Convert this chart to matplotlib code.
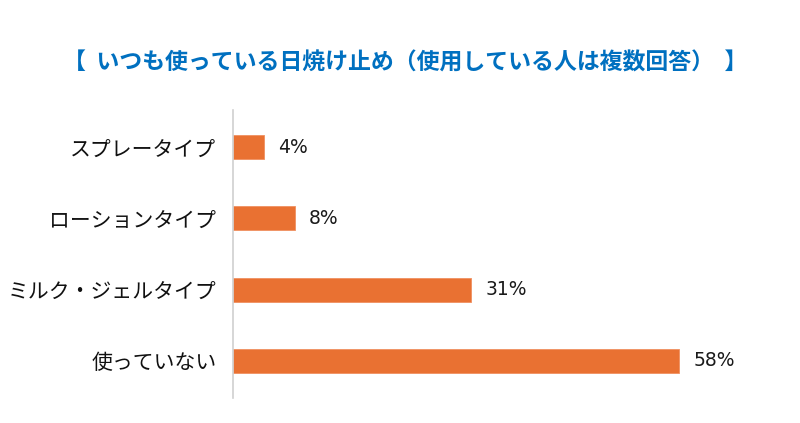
import matplotlib
matplotlib.use("Agg")
import matplotlib.pyplot as plt

categories = ["スプレータイプ", "ローションタイプ", "ミルク・ジェルタイプ", "使っていない"]
values = [4, 8, 31, 58]
value_labels = ["4%", "8%", "31%", "58%"]
title = "【  いつも使っている日焼け止め（使用している人は複数回答）  】"

plt.rcParams['font.family'] = ['Noto Sans CJK JP', 'DejaVu Sans']

fig = plt.figure(figsize=(8, 4.23), dpi=100)
ax = fig.add_axes([233/800, 25/423, (780-233)/800, 288/423])

y = list(range(len(categories)))
ax.barh(y, values, height=0.34, color="#E97132", edgecolor="#F09060", linewidth=0.6)
for yi, v, lab in zip(y, values, value_labels):
    ax.text(v + 1.8, yi, lab, va="center", ha="left", fontsize=13.5, color="#1a1a1a",
            family="DejaVu Sans")

ax.set_yticks(y)
ax.set_yticklabels(categories, fontsize=15, color="#111111")
ax.tick_params(axis="y", length=0, pad=12)
ax.set_xticks([])
ax.set_xlim(0, 71.1)
ax.set_ylim(3.52, -0.52)
for s in ["top", "right", "bottom"]:
    ax.spines[s].set_visible(False)
ax.spines["left"].set_color("#D0D0D0")
ax.spines["left"].set_linewidth(1.2)

fig.text(405/800, 1 - 63/423, title, ha="center", va="center", fontsize=16.5,
         color="#0070C0", fontweight="bold")

fig.savefig("out.png", dpi=100, facecolor="white")
